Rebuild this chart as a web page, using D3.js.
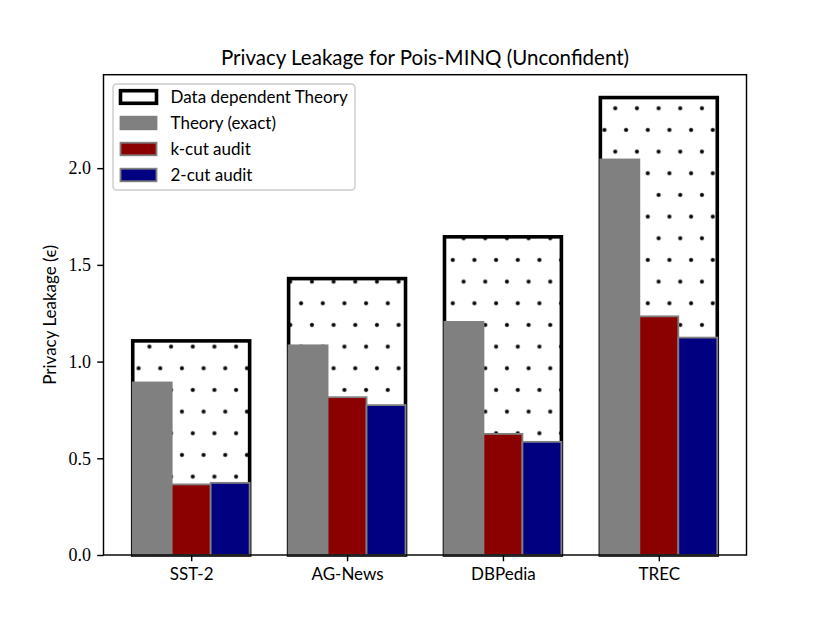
<!DOCTYPE html>
<html>
<head>
<meta charset="utf-8">
<script src="https://cdn.jsdelivr.net/npm/d3@7/dist/d3.min.js"></script>
<style>
  html, body { margin: 0; padding: 0; background: #fff; }
  svg { display: block; }
</style>
</head>
<body>
<svg id="chart" width="830" height="623"></svg>
<script>
const categories = ["SST-2", "AG-News", "DBPedia", "TREC"];
const dataDependent = [1.107, 1.429, 1.645, 2.365];
const theoryExact = [0.892, 1.084, 1.205, 2.045];
const kCut = [0.365, 0.816, 0.626, 1.234];
const twoCut = [0.373, 0.775, 0.585, 1.124];
const yTicks = [0, 0.5, 1.0, 1.5, 2.0];
const legendLabels = ["Data dependent Theory", "Theory (exact)", "k-cut audit", "2-cut audit"];
const titleText = "Privacy Leakage for Pois-MINQ (Unconfident)";
const yLabelText = "Privacy Leakage (\u03F5)";

(function () {
const SANS = "Lato, 'Open Sans', 'Liberation Sans', sans-serif";
const SERIF = "'Liberation Serif', 'DejaVu Serif', serif";

const svg = d3.select("#chart");
const axL = 103.5, axR = 746.5, axT = 74.7, axB = 555;

const barW = 0.25;
const x = d3.scaleLinear().domain([-0.5625, 3.5625]).range([axL, axR]);
const ymax = d3.max(dataDependent) * 1.05;
const y = d3.scaleLinear().domain([0, ymax]).range([axB, axT]);

// hatch pattern (dots)
const defs = svg.append("defs");
const pw = 130 / 6, ph = 2 * 130 / 6;
const pat = defs.append("pattern")
  .attr("id", "dots")
  .attr("patternUnits", "userSpaceOnUse")
  .attr("x", 8.6).attr("y", 21.6)
  .attr("width", pw).attr("height", ph);
pat.append("rect").attr("width", pw).attr("height", ph).attr("fill", "#fff");
[[0,0],[pw,0],[0,ph],[pw,ph],[pw/2,ph/2]].forEach(([cx,cy]) => {
  pat.append("circle").attr("cx", cx).attr("cy", cy).attr("r", 1.8)
    .attr("fill", "#000").attr("stroke", "#000").attr("stroke-width", 0.6);
});

const plot = svg.append("g");
const cats = categories.map((c, i) => i);

// data dependent outline bars
plot.selectAll("rect.dd").data(cats).join("rect")
  .attr("class", "dd")
  .attr("x", i => x(i - 1.5 * barW))
  .attr("width", i => x(i + 1.5 * barW) - x(i - 1.5 * barW))
  .attr("y", i => y(dataDependent[i]))
  .attr("height", i => y(0) - y(dataDependent[i]))
  .attr("fill", "url(#dots)")
  .attr("stroke", "#000")
  .attr("stroke-width", 3.6);

const series = [
  { vals: theoryExact, off: -1, fill: "#808080" },
  { vals: kCut, off: 0, fill: "#8b0000" },
  { vals: twoCut, off: 1, fill: "#000080" }
];
series.forEach(s => {
  plot.append("g").selectAll("rect").data(cats).join("rect")
    .attr("x", i => x(i + s.off * barW - barW / 2))
    .attr("width", x(barW) - x(0))
    .attr("y", i => y(s.vals[i]))
    .attr("height", i => y(0) - y(s.vals[i]))
    .attr("fill", s.fill)
    .attr("stroke", "#808080")
    .attr("stroke-width", 1.8);
});

// axes frame
svg.append("rect")
  .attr("x", axL).attr("y", axT)
  .attr("width", axR - axL).attr("height", axB - axT)
  .attr("fill", "none").attr("stroke", "#000").attr("stroke-width", 1.44);

// x axis
const xAxis = d3.axisBottom(x).tickValues(cats).tickFormat(i => categories[i])
  .tickSize(6.3).tickPadding(6.3);
const gx = svg.append("g").attr("transform", `translate(0,${axB})`).call(xAxis);
gx.select(".domain").remove();
gx.selectAll(".tick line").attr("stroke", "#000").attr("stroke-width", 1.44);
gx.selectAll(".tick text").attr("font-family", SANS).attr("font-size", 17).attr("fill", "#000")
  .attr("dy", "0.72em");

// y axis
const yAxis = d3.axisLeft(y).tickValues(yTicks).tickFormat(d3.format(".1f"))
  .tickSize(6.3).tickPadding(6.3);
const gy = svg.append("g").attr("transform", `translate(${axL},0)`).call(yAxis);
gy.select(".domain").remove();
gy.selectAll(".tick line").attr("stroke", "#000").attr("stroke-width", 1.44);
gy.selectAll(".tick text").attr("font-family", SERIF).attr("font-size", 18).attr("fill", "#000");

// y label
svg.append("text")
  .attr("transform", `translate(56,${(axT + axB) / 2}) rotate(-90)`)
  .attr("text-anchor", "middle")
  .attr("font-family", SANS).attr("font-size", 17)
  .text(yLabelText);

// title
svg.append("text")
  .attr("x", (axL + axR) / 2).attr("y", 65)
  .attr("text-anchor", "middle")
  .attr("font-family", SANS).attr("font-size", 20.5)
  .text(titleText);

// legend
const lg = svg.append("g");
lg.append("rect")
  .attr("x", 113).attr("y", 84).attr("width", 242).attr("height", 106)
  .attr("rx", 3.5).attr("ry", 3.5)
  .attr("fill", "#fff").attr("fill-opacity", 0.8)
  .attr("stroke", "#cccccc").attr("stroke-width", 1.44);
const legendStyles = [
  { fill: "url(#dots)", stroke: "#000", sw: 3.6 },
  { fill: "#808080", stroke: "#808080", sw: 1.8 },
  { fill: "#8b0000", stroke: "#808080", sw: 1.8 },
  { fill: "#000080", stroke: "#808080", sw: 1.8 }
];
legendLabels.forEach((lab, i) => {
  const cy = 97 + i * 26;
  lg.append("rect")
    .attr("x", 120.5).attr("y", cy - 6.3).attr("width", 36).attr("height", 12.6)
    .attr("fill", legendStyles[i].fill)
    .attr("stroke", legendStyles[i].stroke)
    .attr("stroke-width", legendStyles[i].sw);
  lg.append("text")
    .attr("x", 170.5).attr("y", cy).attr("dy", "0.36em")
    .attr("font-family", SANS).attr("font-size", 17)
    .text(lab);
});
})();
</script>
</body>
</html>
